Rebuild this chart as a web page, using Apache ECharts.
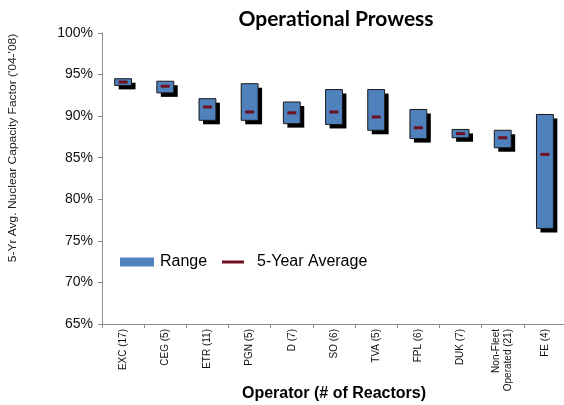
<!DOCTYPE html>
<html>
<head>
<meta charset="utf-8">
<script src="https://cdn.jsdelivr.net/npm/echarts@6/dist/echarts.min.js"></script>
<style>html,body{margin:0;padding:0;background:#fff;}#c{width:564px;height:405px;}</style>
</head>
<body>
<div id="c"></div>
<script>
var categories = ['EXC (17)','CEG (5)','ETR (11)','PGN (5)','D (7)','SO (6)','TVA (5)','FPL (6)','DUK (7)','Non-Fleet\nOperated (21)','FE (4)'];
var lowValues  = [93.7, 92.8, 89.5, 89.5, 89.1, 89.0, 88.3, 87.3, 87.4, 86.2, 76.5];
var highValues = [94.5, 94.2, 92.1, 93.9, 91.7, 93.2, 93.2, 90.8, 88.4, 88.3, 90.2];
var avgValues  = [94.1, 93.6, 91.1, 90.5, 90.4, 90.5, 89.9, 88.6, 87.9, 87.4, 85.4];
var yTicks = [65, 70, 75, 80, 85, 90, 95, 100];

var rangeData = categories.map(function (c, i) { return [i, lowValues[i], highValues[i]]; });

function renderRange(params, api) {
  var i = api.value(0);
  var top = api.coord([i, api.value(2)]);
  var bot = api.coord([i, api.value(1)]);
  var w = api.size([1, 0])[0] * 0.4;
  var h = bot[1] - top[1];
  return {
    type: 'group',
    children: [{
      type: 'rect',
      shape: {x: top[0] - w / 2 + 4, y: top[1] + 4, width: w, height: h},
      style: {fill: '#000000'}
    }, {
      type: 'rect',
      shape: {x: top[0] - w / 2, y: top[1], width: w, height: h},
      style: {fill: api.visual('color'), stroke: '#1a1a1a', lineWidth: 1}
    }]
  };
}

var chart = echarts.init(document.getElementById('c'), null, {renderer: 'canvas'});
chart.setOption({
  animation: false,
  backgroundColor: '#ffffff',
  title: {
    text: 'Operational Prowess',
    left: 331, top: 4, textAlign: 'center',
    textStyle: {fontFamily: 'Lato', fontWeight: 'bold', fontSize: 21, color: '#000'}
  },
  legend: [{
    data: [{name: 'Range', icon: 'rect'}],
    left: 115, top: 249,
    itemWidth: 34, itemHeight: 9,
    itemStyle: {borderWidth: 0},
    textStyle: {fontFamily: 'Liberation Sans, Arial', fontSize: 16, color: '#000', padding: [0,0,0,1]}
  }, {
    data: [{name: '5-Year Average', icon: 'rect'}],
    left: 217, top: 249,
    itemWidth: 22, itemHeight: 3,
    itemStyle: {opacity: 1},
    textStyle: {fontFamily: 'Liberation Sans, Arial', fontSize: 16, color: '#000', padding: [0,0,0,8]}
  }],
  grid: {left: 102, right: -2, top: 33, bottom: 81, containLabel: false, outerBoundsMode: 'none'},
  xAxis: {
    type: 'category',
    data: categories,
    name: 'Operator (# of Reactors)',
    nameLocation: 'middle',
    nameGap: 62,
    nameMoveOverlap: false,
    nameTextStyle: {fontFamily: 'Liberation Sans, Arial', fontWeight: 'bold', fontSize: 16, color: '#000'},
    axisLine: {lineStyle: {color: '#8c8c8c', width: 1}},
    axisTick: {show: true, alignWithLabel: false, length: 4, lineStyle: {color: '#8c8c8c'}},
    axisLabel: {rotate: 90, margin: 5, fontFamily: 'Liberation Sans, Arial', fontSize: 10, color: '#111', lineHeight: 12, interval: 0},
    splitLine: {show: false}
  },
  yAxis: {
    type: 'value',
    min: yTicks[0], max: yTicks[yTicks.length - 1], interval: 5,
    axisLine: {show: true, lineStyle: {color: '#8c8c8c', width: 1}},
    axisTick: {show: true, length: 4, lineStyle: {color: '#8c8c8c'}},
    axisLabel: {formatter: '{value}%', margin: 9, fontFamily: 'Liberation Sans, Arial', fontSize: 14, color: '#111'},
    splitLine: {show: false}
  },
  graphic: [{
    type: 'text',
    x: 13, y: 148,
    rotation: Math.PI / 2,
    scaleX: 1.2,
    style: {
      text: "5-Yr Avg. Nuclear Capacity Factor ('04-'08)",
      fontFamily: 'Liberation Sans, Arial', fontSize: 10, fill: '#222',
      textAlign: 'center', textVerticalAlign: 'middle'
    }
  }],
  series: [{
    name: 'Range',
    type: 'custom',
    renderItem: renderRange,
    data: rangeData,
    encode: {x: 0, y: [1, 2]},
    itemStyle: {color: '#4f81bd'},
    z: 2
  }, {
    name: '5-Year Average',
    type: 'scatter',
    data: avgValues,
    symbol: 'rect',
    symbolSize: [9, 3],
    itemStyle: {color: '#6e1020', opacity: 1},
    z: 5
  }]
});
</script>
</body>
</html>
